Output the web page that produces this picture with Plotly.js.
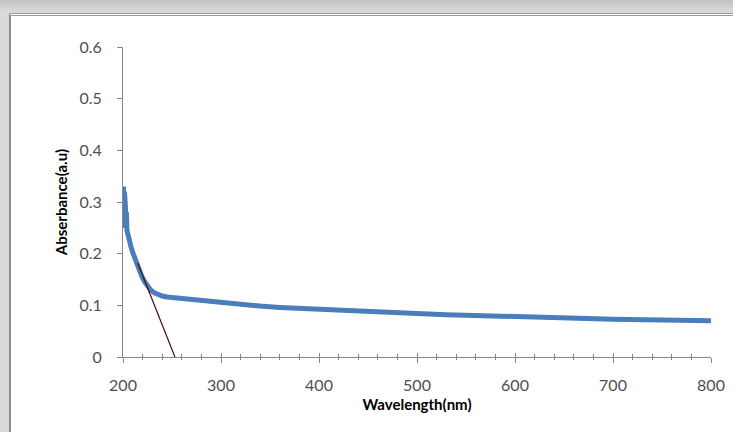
<!DOCTYPE html>
<html>
<head>
<meta charset="utf-8">
<script src="https://cdn.plot.ly/plotly-3.0.1.min.js"></script>
<style>
  html, body { margin: 0; padding: 0; width: 733px; height: 432px; overflow: hidden; }
  body { background: linear-gradient(to bottom, #c0c0c0 0px, #d4d4d4 8px, #dadada 13px); position: relative; }
  #frame { position: absolute; left: 9px; top: 13px; width: 724px; height: 419px;
           border-top: 3px double #9a9a9a; border-left: 2px solid #8c8c8c; background: #ffffff; }
  #chart { position: absolute; left: 0; top: 0; width: 722px; height: 416px; }
</style>
</head>
<body>
<div id="frame"><div id="chart"></div></div>
<script>
const wavelength = [200, 200.5, 201, 201.5, 202, 202.5, 203, 203.5, 204, 205, 206, 208, 210, 213, 216, 219, 222, 225, 228, 232, 236, 240, 245, 250, 255, 265, 280, 300, 320, 340, 360, 380, 400, 430, 460, 500, 530, 560, 600, 650, 700, 750, 800];
const absorbance = [0.30, 0.33, 0.25, 0.32, 0.26, 0.29, 0.25, 0.28, 0.245, 0.238, 0.228, 0.214, 0.202, 0.186, 0.171, 0.157, 0.146, 0.137, 0.130, 0.124, 0.120, 0.118, 0.116, 0.115, 0.114, 0.112, 0.1085, 0.105, 0.1015, 0.0985, 0.096, 0.094, 0.092, 0.0895, 0.087, 0.084, 0.082, 0.080, 0.0775, 0.075, 0.073, 0.0715, 0.070];
// Tangent (band-edge extrapolation) line
const tangentX = [215, 253];
const tangentY = [0.182, 0];
// Axis settings
const xTicks = [200, 300, 400, 500, 600, 700, 800];
const yTicks = [0, 0.1, 0.2, 0.3, 0.4, 0.5, 0.6];
const yTickText = ['0', '0.1', '0.2', '0.3', '0.4', '0.5', '0.6'];

const font = 'Lato, "Open Sans", sans-serif';

const traces = [
  { x: wavelength, y: absorbance, type: 'scatter', mode: 'lines',
    line: { color: '#4a7ebb', width: 5 }, hoverinfo: 'skip' },
  { x: tangentX, y: tangentY, type: 'scatter', mode: 'lines',
    line: { color: '#4a0d0d', width: 1.2 }, hoverinfo: 'skip' }
];

const layout = {
  width: 722, height: 416,
  margin: { l: 112, r: 22, t: 31, b: 75 },
  paper_bgcolor: 'rgba(0,0,0,0)', plot_bgcolor: 'rgba(0,0,0,0)',
  showlegend: false,
  xaxis: {
    range: [200, 800], tickvals: xTicks, ticktext: xTicks.map(String),
    showgrid: false, zeroline: false, showline: true, linecolor: '#868686', linewidth: 1,
    ticks: 'outside', ticklen: 5, tickcolor: '#868686', tickwidth: 1, ticklabelstandoff: 9,
    minor: { dtick: 20, ticks: 'outside', ticklen: 2, tickcolor: '#868686', showgrid: false },
    tickfont: { family: font, size: 16, color: '#505050' },
    title: { text: 'Wavelength(nm)', font: { family: font, size: 15, color: '#000000', weight: 'bold' }, standoff: 6 }
  },
  xaxis2: {
    overlaying: 'x', anchor: 'y', side: 'bottom', matches: 'x', range: [200, 800],
    tickvals: xTicks, showticklabels: false, showgrid: false, zeroline: false, showline: false,
    ticks: 'inside', ticklen: 4, tickcolor: '#868686', tickwidth: 1,
    minor: { dtick: 20, ticks: 'inside', ticklen: 3, tickcolor: '#868686', showgrid: false }
  },
  yaxis: {
    range: [0, 0.6], tickvals: yTicks, ticktext: yTickText,
    showgrid: false, zeroline: false, showline: true, linecolor: '#868686', linewidth: 1,
    ticks: 'outside', ticklen: 5, tickcolor: '#868686', tickwidth: 1, ticklabelstandoff: 12,
    tickfont: { family: font, size: 16, color: '#505050' },
    title: { text: 'Abserbance(a.u)', font: { family: font, size: 15, color: '#000000', weight: 'bold' }, standoff: 8 }
  }
};

// invisible trace to activate xaxis2
traces.push({ x: [200, 800], y: [null, null], xaxis: 'x2', yaxis: 'y', type: 'scatter', mode: 'lines', hoverinfo: 'skip', showlegend: false });

Plotly.newPlot('chart', traces, layout, { displayModeBar: false, staticPlot: true });
</script>
</body>
</html>
